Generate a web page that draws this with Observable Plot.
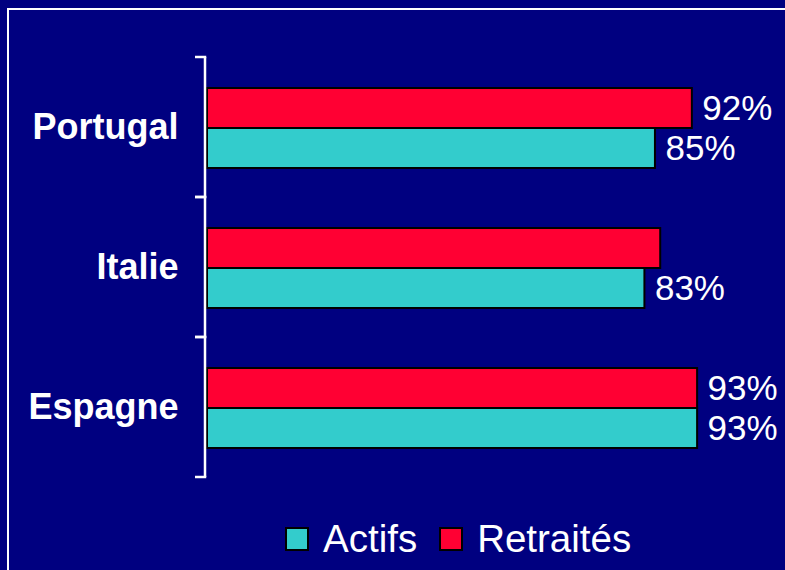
<!DOCTYPE html>
<html>
<head>
<meta charset="utf-8">
<script src="https://cdn.jsdelivr.net/npm/d3@7"></script>
<script src="https://cdn.jsdelivr.net/npm/@observablehq/plot@0.6"></script>
<style>
  html, body { margin: 0; padding: 0; background: #000080; width: 785px; height: 570px; overflow: hidden; font-family: "Liberation Sans", Arial, Helvetica, sans-serif; }
  #frame { position: absolute; left: 7px; top: 8px; width: 820px; height: 620px; border: 2px solid #ffffff; box-sizing: border-box; }
  #chart { position: absolute; left: 0; top: 0; }
  #legend { position: absolute; left: 285px; top: 520px; display: flex; align-items: center; color: #fff; font-size: 38.5px; line-height: 38px; }
  .sw { width: 20px; height: 20px; border: 2px solid #000; display: inline-block; }
  .item { display: flex; align-items: center; }
  .lab { margin-left: 14px; }
</style>
</head>
<body>
<div id="frame"></div>
<div id="chart"></div>
<div id="legend"></div>
<script>
const countries = ["Portugal", "Italie", "Espagne"];
const seriesNames = ["Retraités", "Actifs"];
const actifs = [85, 83, 93];
const retraites = [92, 86, 93];
const actifsLabels = ["85%", "83%", "93%"];
const retraitesLabels = ["92%", "", "93%"];
const colors = {"Actifs": "#33CCCC", "Retraités": "#FF0033"};
const legendOrder = ["Actifs", "Retraités"];

const rows = [];
countries.forEach((c, i) => {
  rows.push({country: c, series: "Retraités", value: retraites[i], label: retraitesLabels[i]});
  rows.push({country: c, series: "Actifs", value: actifs[i], label: actifsLabels[i]});
});

function bracket(index, scales, values, dims) {
  const g = d3.create("svg:g");
  const [y0, y1] = scales.y.range();
  const x0 = scales.x(0) - 2;
  g.append("line").attr("x1", x0).attr("x2", x0).attr("y1", y0).attr("y2", y1)
    .attr("stroke", "white").attr("stroke-width", 2.5);
  for (const yy of [y0, y1]) {
    g.append("line").attr("x1", x0 - 10).attr("x2", x0 + 1.25).attr("y1", yy).attr("y2", yy)
      .attr("stroke", "white").attr("stroke-width", 2.5);
  }
  return g.node();
}

const plot = Plot.plot({
  width: 785,
  height: 500,
  marginTop: 57,
  marginBottom: 23,
  marginLeft: 207,
  marginRight: 51,
  style: {background: "transparent", color: "white", fontFamily: "'Liberation Sans', Arial, Helvetica, sans-serif"},
  x: {domain: [0, 100], axis: null},
  y: {domain: seriesNames, paddingInner: 0, paddingOuter: 0.73, align: 0.52, axis: null},
  fy: {domain: countries, padding: 0, axis: null, label: null},
  marks: [
    Plot.barX(rows, {x: "value", y: "series", fy: "country", fill: d => colors[d.series], stroke: "black", strokeWidth: 2}),
    Plot.text(rows, {x: "value", y: "series", fy: "country", text: "label", textAnchor: "start", dx: 10, fill: "white", fontSize: 35}),
    bracket,
    Plot.axisFy({anchor: "left", tickSize: 0, tickPadding: 29, fontSize: 36, fontWeight: "bold", fill: "white", label: null})
  ]
});
document.getElementById("chart").appendChild(plot);

const legend = document.getElementById("legend");
legendOrder.forEach((s, i) => {
  const item = document.createElement("div");
  item.className = "item";
  if (i > 0) item.style.marginLeft = "22px";
  const sw = document.createElement("span");
  sw.className = "sw";
  sw.style.background = colors[s];
  const lab = document.createElement("span");
  lab.className = "lab";
  lab.textContent = s;
  item.appendChild(sw);
  item.appendChild(lab);
  legend.appendChild(item);
});
</script>
</body>
</html>
